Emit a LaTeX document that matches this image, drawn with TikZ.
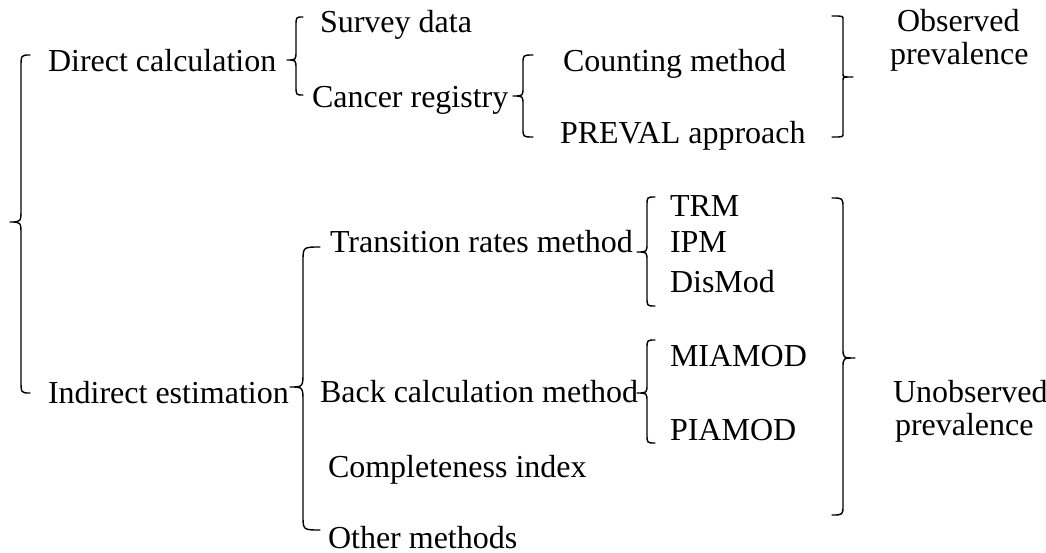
\documentclass[tikz,border=0pt]{standalone}
\usepackage{fontspec}
\setmainfont{Liberation Serif}
\tikzset{
  lbl/.style={anchor=base west, inner sep=0pt, outer sep=0pt, font=\fontsize{32}{38}\selectfont},
  bracestyle/.style={line width=1.4pt, line cap=round, line join=round}
}
% brace: #1 end x, #2 stem x, #3 tip x, #4 top y, #5 tip y, #6 bottom y, #7 hook size
\newcommand{\curlybrace}[7]{%
  \draw[bracestyle] (#1,#4) .. controls (#2,#4) .. (#2,#4+#7)
    -- (#2,#5-#7) .. controls (#2,#5) .. (#3,#5)
    .. controls (#2,#5) .. (#2,#5+#7)
    -- (#2,#6-#7) .. controls (#2,#6) .. (#1,#6);}
\begin{document}
\begin{tikzpicture}[x=1pt,y=-1pt]
\useasboundingbox (0,0) rectangle (1046,553);

% labels
\node[lbl] (direct) at (48,72) {Direct calculation};
\node[lbl] (survey) at (320,33) {Survey data};
\node[lbl] (registry) at (312,108) {Cancer registry};
\node[lbl] (counting) at (563,72) {Counting method};
\node[lbl] (preval) at (560,144) {PREVAL approach};
\node[lbl] (obs1) at (897,32) {Observed};
\node[lbl] (obs2) at (890,65) {prevalence};

\node[lbl] (indirect) at (48,403) {Indirect estimation};
\node[lbl] (transition) at (330,253) {Transition rates method};
\node[lbl] (back) at (320,402) {Back calculation method};
\node[lbl] (complete) at (328,477) {Completeness index};
\node[lbl] (other) at (328,548) {Other methods};
\node[lbl] (trm) at (670,217) {TRM};
\node[lbl] (ipm) at (670,253) {IPM};
\node[lbl] (dismod) at (670,292) {DisMod};
\node[lbl] (miamod) at (670,366) {MIAMOD};
\node[lbl] (piamod) at (670,440) {PIAMOD};
\node[lbl] (unobs1) at (893,402) {Unobserved};
\node[lbl] (unobs2) at (895,435) {prevalence};

% braces
\curlybrace{30}{21}{10}{55}{222}{393}{13}
\curlybrace{303}{296}{287}{17}{60}{95}{9}
\curlybrace{533}{523}{513}{55}{96}{137}{9}
\curlybrace{832}{843}{853}{16}{77}{137}{3}
\curlybrace{320}{303}{290}{247}{387}{530}{15}
\curlybrace{655}{647}{637}{197}{252}{306}{9}
\curlybrace{655}{647}{637}{340}{393}{443}{9}
\curlybrace{832}{843}{855}{198}{358}{515}{10}
\end{tikzpicture}
\end{document}
